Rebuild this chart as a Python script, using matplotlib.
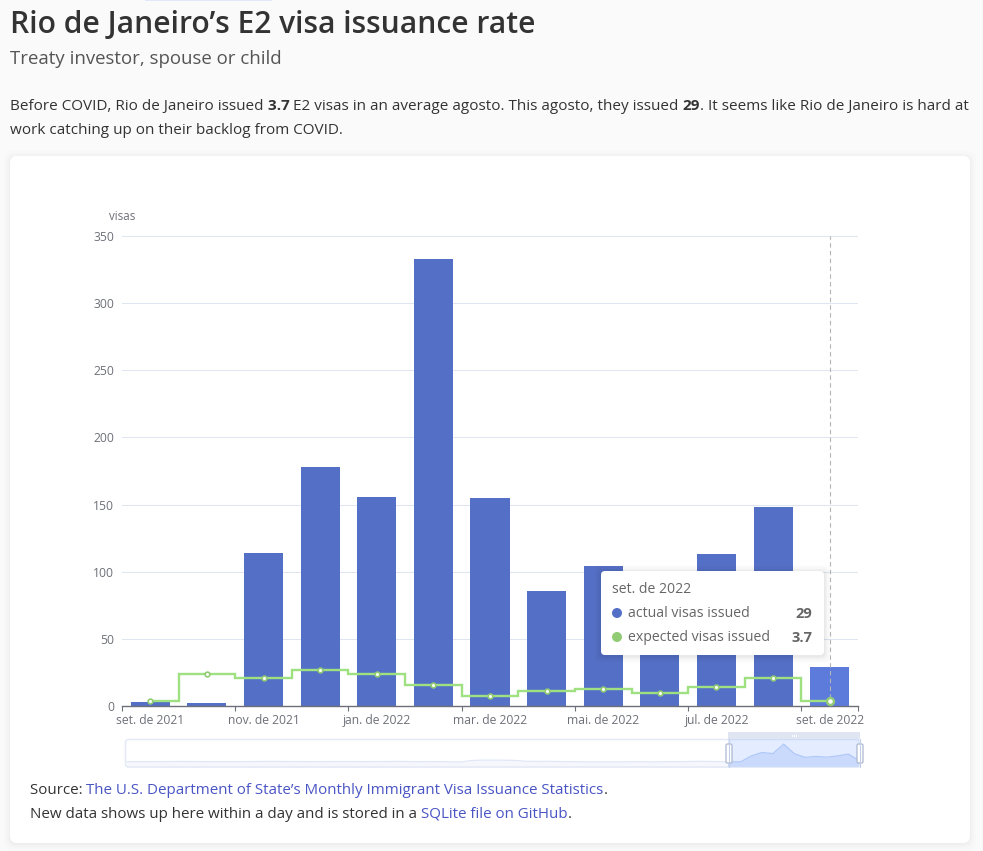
import matplotlib
matplotlib.use("Agg")
import matplotlib.pyplot as plt
from matplotlib.patches import FancyBboxPatch, Rectangle, Circle

W, H = 983, 851
plt.rcParams['font.family'] = ['Open Sans', 'DejaVu Sans']

months = ['set. de 2021', 'out. de 2021', 'nov. de 2021', 'dez. de 2021', 'jan. de 2022', 'fev. de 2022',
          'mar. de 2022', 'abr. de 2022', 'mai. de 2022', 'jun. de 2022', 'jul. de 2022', 'ago. de 2022', 'set. de 2022']
actual = [3, 2, 114, 178, 156, 333, 155, 86, 104, 90, 113, 148, 29]
expected = [3.7, 24, 20.5, 27, 24, 16, 7.5, 11, 13, 10, 14, 21, 3.7]
history = [6, 6, 6, 7, 8, 10, 9, 7, 6, 6, 6, 7, 9, 11, 10, 9, 8, 7, 7, 8, 9, 8, 7, 8, 9, 11, 9, 5, 8, 7, 4, 0,
           28, 35, 35, 34, 30, 14, 10, 13, 9, 6, 5, 4, 4, 4, 4, 5, 5, 4, 5, 6, 8, 12, 10, 7]
y_ticks = [0, 50, 100, 150, 200, 250, 300, 350]

BLUE, HOVER, GREEN, GREEN_DOT = '#5470c6', '#5d7bdb', '#9fe080', '#91cc75'
AXIS, GRID, INK = '#6e7079', '#e0e6f1', '#333333'
LINK = '#4a55c4'

fig = plt.figure(figsize=(W / 100, H / 100), dpi=100, facecolor='#fafafa')


def rect(x0, y0, x1, y1):
    return [x0 / W, 1 - y1 / H, (x1 - x0) / W, (y1 - y0) / H]


bg = fig.add_axes([0, 0, 1, 1], zorder=0)
bg.set_xlim(0, W); bg.set_ylim(H, 0); bg.axis('off')
for grow, alpha in [(6, .006), (4, .008), (2.5, .010), (1, .014)]:
    bg.add_patch(FancyBboxPatch((10 - grow, 156 - grow + 1), 960 + 2 * grow, 687 + 2 * grow,
                                boxstyle='round,pad=0,rounding_size=8', fc='black', ec='none', alpha=alpha))
bg.add_patch(FancyBboxPatch((10, 156), 960, 687, boxstyle='round,pad=0,rounding_size=7', fc='white', ec='none'))
bg.add_patch(Rectangle((145, 0), 127, 1.2, fc='#e2e8fb', ec='none'))

# main chart
ax = fig.add_axes(rect(122, 236, 858, 706), zorder=2)
ax.set_xlim(-0.5, 12.5); ax.set_ylim(0, 350)
ax.patch.set_alpha(0)
xs = list(range(len(months)))
for s in ['top', 'right', 'left']:
    ax.spines[s].set_visible(False)
ax.spines['bottom'].set_color(AXIS); ax.spines['bottom'].set_linewidth(1.0)
ax.set_axisbelow(True)
ax.yaxis.grid(True, color=GRID, lw=0.75)
ax.set_yticks(y_ticks)
ax.tick_params(axis='y', length=0, labelsize=8.7, labelcolor=AXIS, pad=5.5)
bars = ax.bar(xs, actual, width=0.69, color=BLUE, zorder=2)
bars[-1].set_facecolor(HOVER)
ax.set_xticks([i - 0.5 for i in xs[::2]] + [12.5])
ax.set_xticklabels([])
ax.tick_params(axis='x', which='major', length=3.6, width=0.8, color=AXIS)
ax.set_xticks(xs[::2], minor=True)
ax.set_xticklabels(months[::2], minor=True)
ax.tick_params(axis='x', which='minor', length=0, labelsize=8.7, labelcolor=AXIS, pad=6)
ax.axvline(xs[-1], color='#b5b5b5', lw=0.8, ls=(0, (4, 3)), zorder=3)
ax.step(xs, expected, where='mid', color=GREEN, lw=1.7, zorder=4, solid_joinstyle='miter', clip_on=False)
ax.plot(xs, expected, ls='none', marker='o', ms=3.4, mfc='white', mec=GREEN_DOT, mew=1.2, zorder=5, clip_on=False)
ax.plot(xs[-1:], expected[-1:], ls='none', marker='o', ms=5.0, mfc='white', mec=GREEN_DOT, mew=1.7, zorder=6, clip_on=False)

# slider overview
series = history + actual
ov_l, ov_r = 127, 859
n = len(series)
left_split = (728 - ov_l) / (ov_r - ov_l) * (n - 1)
for clip_from, clip_to, fc, lc, z in [(-1, left_split, '#f5f7fc', '#e0e7f6', 3), (left_split, n, '#dce7fd', '#bccff7', 4)]:
    ov = fig.add_axes(rect(ov_l, 740, ov_r, 767), zorder=z)
    ov.set_xlim(0, n - 1)
    ov.set_ylim(-93, 410)
    ov.axis('off')
    clip = Rectangle((clip_from, -93), clip_to - clip_from, 503, transform=ov.transData)
    poly = ov.fill_between(range(n), series, -93, color=fc, lw=0)
    poly.set_clip_path(clip)
    ln, = ov.plot(range(n), series, color=lc, lw=0.9)
    ln.set_clip_path(clip)

# overlay with pixel coordinates
top = fig.add_axes([0, 0, 1, 1], zorder=6)
top.set_xlim(0, W); top.set_ylim(H, 0); top.axis('off'); top.patch.set_alpha(0)

top.add_patch(FancyBboxPatch((125.5, 739.5), 734, 27.5, boxstyle='round,pad=0,rounding_size=3',
                             fc='none', ec='#e3e9f6', lw=1.1))
top.add_patch(Rectangle((728, 739), 131, 28, fc='#87afff', alpha=.22, ec='none'))
top.add_patch(Rectangle((728, 732), 132, 7, fc='#dfe5f1', ec='none'))
for dx in (0, 2, 4):
    top.add_patch(Rectangle((792 + dx, 734.5), 1, 2.5, fc='white', ec='none'))
top.plot([728.5, 728.5], [739, 767], color='#c3cfe6', lw=0.8)
top.plot([859.5, 859.5], [739, 767], color='#c3cfe6', lw=0.8)
for hx in (726, 857):
    top.add_patch(FancyBboxPatch((hx, 744), 6, 19, boxstyle='round,pad=0,rounding_size=1.5',
                                 fc='white', ec='#acb8d1', lw=0.9))

# tooltip
for grow, alpha in [(7, .012), (5, .018), (3, .025), (1.5, .03)]:
    top.add_patch(FancyBboxPatch((601 - grow, 571 - grow + 1), 223 + 2 * grow, 84 + 2 * grow,
                                 boxstyle='round,pad=0,rounding_size=5', fc='black', ec='none', alpha=alpha))
top.add_patch(FancyBboxPatch((601, 571), 223, 84, boxstyle='round,pad=0,rounding_size=4', fc='white', ec='none'))
TIP = '#666666'
top.text(612, 589.5, months[-1], fontsize=10.1, color=TIP, va='center')
top.add_patch(Circle((617, 613), 5, fc=BLUE, ec='none'))
top.add_patch(Circle((617, 637), 5, fc=GREEN_DOT, ec='none'))
top.text(628, 613.5, 'actual visas issued', fontsize=10.15, color=TIP, va='center')
top.text(628, 637.5, 'expected visas issued', fontsize=10.15, color=TIP, va='center')
top.text(812.5, 613.5, str(actual[-1]), fontsize=10.5, fontweight='bold', color=TIP, va='center', ha='right')
top.text(812.5, 637.5, str(expected[-1]), fontsize=10.5, fontweight='bold', color=TIP, va='center', ha='right')

top.text(122, 216, 'visas', fontsize=8.4, color=AXIS, ha='center', va='center')

renderer = fig.canvas.get_renderer()


def runs(x, y, parts, size, target=None):
    """Write differently styled text runs along a baseline, optionally fitted to a pixel width."""
    def place(sz):
        cx = x
        made = []
        for txt, col, wt in parts:
            t = top.text(cx, y, txt, fontsize=sz, color=col, fontweight=wt, va='baseline', ha='left')
            cx += t.get_window_extent(renderer).width
            made.append(t)
        return cx - x, made
    width, made = place(size)
    if target:
        for t in made:
            t.remove()
        width, made = place(size * target / width)
    return made


runs(10, 33, [("Rio de Janeiro\u2019s E2 visa issuance rate", INK, 600)], 23, 527)
runs(10, 64, [('Treaty investor, spouse or child', '#555555', 'normal')], 14.4, 271)
runs(10, 110, [('Before COVID, Rio de Janeiro issued ', INK, 'normal'), ('3.7 ', INK, 'bold'),
               ('E2 visas in an average agosto. This agosto, they issued ', INK, 'normal'), ('29', INK, 'bold'),
               ('. It seems like Rio de Janeiro is hard at', INK, 'normal')], 11.2, 955)
runs(10, 134, [('work catching up on their backlog from COVID.', INK, 'normal')], 11.2, 333)
runs(30, 794, [('Source: ', INK, 'normal'),
               ("The U.S. Department of State\u2019s Monthly Immigrant Visa Issuance Statistics", LINK, 'normal'),
               ('.', INK, 'normal')], 11.2, 577)
runs(30, 818, [('New data shows up here within a day and is stored in a ', INK, 'normal'),
               ('SQLite file on GitHub', LINK, 'normal'), ('.', INK, 'normal')], 11.2, 542)

fig.savefig('out.png', dpi=100, facecolor=fig.get_facecolor())
